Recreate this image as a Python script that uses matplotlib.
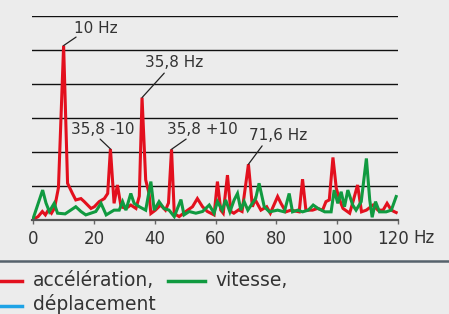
import matplotlib
matplotlib.use("Agg")
import matplotlib.pyplot as plt
from matplotlib.lines import Line2D
from matplotlib.transforms import ScaledTranslation

# acceleration spectrum (red)
acc_hz = [0, 1.6, 3, 4, 5, 6, 7, 8.3, 10, 11.3, 12.9, 14, 15.7, 16.8, 17.9, 19, 20.1, 21.7,
          23.4, 24.5, 25.4, 26.6, 27.7, 28.9, 30.5, 32.1, 33.8, 34.9, 35.8, 37, 38.1, 38.7,
          40.2, 41.9, 43.5, 44.5, 45.5, 46.4, 48, 50.2, 52.4, 54, 55.7, 57.3, 59.5, 60.6,
          61.7, 62.5, 63.9, 65, 66, 67.6, 68.7, 70.8, 72.1, 73, 74.9, 76.8, 78, 80.4, 81.5,
          83.1, 84.8, 87.5, 88.6, 89.7, 91.9, 93.5, 95.2, 96.3, 97.4, 98.6, 99.7, 100.8,
          101.9, 104.1, 105.2, 106.7, 108, 109.6, 111.8, 113.4, 115.1, 116.4, 117.8, 118.9, 119.4]
acc = [0.02, 0.1, 0.25, 0.15, 0.3, 0.2, 0.35, 0.95, 5.13, 1.08, 0.78, 0.59, 0.63, 0.54, 0.44,
       0.34, 0.39, 0.54, 0.63, 0.78, 2.09, 0.49, 1.03, 0.39, 0.34, 0.44, 0.34, 0.7, 3.6, 1.18,
       0.78, 0.19, 0.29, 0.44, 0.29, 0.5, 2.08, 0.19, 0.1, 0.25, 0.39, 0.63, 0.39, 0.25, 0.15,
       1.13, 0.29, 0.2, 1.32, 0.25, 0.2, 0.3, 0.25, 1.64, 0.39, 0.6, 0.29, 0.39, 0.2, 0.69,
       0.49, 0.24, 0.29, 0.24, 1.2, 0.29, 0.29, 0.34, 0.29, 0.54, 0.59, 1.84, 0.93, 0.59,
       0.34, 0.2, 0.54, 1.03, 0.24, 0.29, 0.44, 0.29, 0.29, 0.49, 0.29, 0.24, 0.22]

# velocity spectrum (green)
vit_hz = [0, 3.1, 4.2, 5.3, 6.9, 8, 10.5, 14, 15.7, 17.3, 20.6, 22.3, 24, 26.6, 28.3, 29.4,
          30.5, 32.1, 33.2, 34.9, 37, 38.7, 39.8, 41.4, 43, 44.7, 46.4, 48.6, 49.6, 51.3,
          53.5, 55.7, 57.9, 59.5, 60.6, 62.2, 63.3, 64.7, 66.1, 67.2, 68.3, 69.4, 70.6, 71.7,
          73.2, 74.3, 76, 77.7, 80.4, 82.6, 84.2, 85.3, 87, 88.6, 90.5, 92.1, 93.7, 95.9, 98,
          99, 100.2, 101.3, 102.4, 103.5, 105.1, 106.2, 107.9, 109.6, 110.7, 111.5, 112.6,
          113.9, 116.1, 117.8, 119.4]
vit = [0.05, 0.88, 0.5, 0.25, 0.49, 0.2, 0.18, 0.39, 0.25, 0.15, 0.25, 0.49, 0.15, 0.29, 0.29,
       0.54, 0.29, 0.78, 0.49, 0.39, 0.29, 1.13, 0.29, 0.54, 0.34, 0.29, 0.1, 0.6, 0.15, 0.25,
       0.2, 0.25, 0.44, 0.2, 0.54, 0.29, 0.59, 0.24, 0.59, 0.78, 0.29, 0.54, 0.29, 0.44, 0.64,
       1.08, 0.39, 0.24, 0.29, 0.24, 0.78, 0.24, 0.29, 0.24, 0.29, 0.44, 0.34, 0.24, 0.24,
       0.88, 0.49, 0.83, 0.39, 0.88, 0.44, 0.29, 0.54, 1.81, 0.59, 0.08, 0.54, 0.24, 0.24,
       0.29, 0.69]

xticks = [0, 20, 40, 60, 80, 100, 120]

# (label, peak x, peak y, leader end x, leader end y, text x, text y)
notes = [("10 Hz", 10, 5.13, 14.1, 5.38, 13.3, 5.62),
         ("35,8 Hz", 35.8, 3.6, 43.1, 4.32, 36.9, 4.62),
         ("35,8 -10", 25.4, 2.09, 22.0, 2.38, 12.5, 2.65),
         ("35,8 +10", 45.5, 2.08, 50.3, 2.38, 44.1, 2.65),
         ("71,6 Hz", 70.8, 1.64, 75.3, 2.18, 71.0, 2.5)]

RED = "#e3101e"
GREEN = "#109a40"
BLUE = "#1ea3e6"
TXT = "#333333"
BG = "#ececec"

fig = plt.figure(figsize=(4.49, 3.14), dpi=100, facecolor=BG)
ax = fig.add_axes([32/449, 94/314, 366/449, 204/314], facecolor=BG)

for g in range(1, 7):
    ax.axhline(g, color="#111111", lw=1.0, zorder=1)

ax.plot(acc_hz, acc, color=RED, lw=2.2, zorder=3, solid_joinstyle="miter")
ax.plot(vit_hz, vit, color=GREEN, lw=2.2, zorder=4, solid_joinstyle="miter")

for lab, px, py, lx, ly, tx, ty in notes:
    ax.annotate("", xy=(px, py), xytext=(lx, ly),
                arrowprops=dict(arrowstyle="-", color="#222222", lw=0.9,
                                shrinkA=0, shrinkB=0))
    ax.text(tx, ty, lab, fontsize=11, color=TXT, ha="left", va="center")

ax.set_xlim(-0.4, 119.7)
ax.set_ylim(0, 6)
ax.set_yticks([])
ax.set_xticks(xticks)
ax.set_xticklabels([str(t) for t in xticks])
ax.tick_params(axis="x", length=3, width=1, color="#666666", labelsize=12,
               labelcolor=TXT, pad=4)
last = ax.get_xticklabels()[-1]
last.set_transform(last.get_transform() + ScaledTranslation(-5/100, 0, fig.dpi_scale_trans))
for s in ["top", "right", "left"]:
    ax.spines[s].set_visible(False)
ax.spines["bottom"].set_color("#555555")
ax.spines["bottom"].set_linewidth(1.6)
ax.spines["bottom"].set_zorder(5)

fig.text(413/449, 1 - 238/314, "Hz", fontsize=12, color=TXT, ha="left", va="center")

# separator and legend
fig.add_artist(Line2D([0, 1], [1 - 261/314] * 2, color="#56626c", lw=1.8))
fig.add_artist(Line2D([0, 22/449], [1 - 281/314] * 2, color=RED, lw=2.5))
fig.add_artist(Line2D([168/449, 205/449], [1 - 281/314] * 2, color=GREEN, lw=2.5))
fig.add_artist(Line2D([0, 22/449], [1 - 306/314] * 2, color=BLUE, lw=2.5))
fig.text(33/449, 1 - 280/314, "accélération,", fontsize=13.5, color=TXT, va="center")
fig.text(215/449, 1 - 280/314, "vitesse,", fontsize=13.5, color=TXT, va="center")
fig.text(33/449, 1 - 304/314, "déplacement", fontsize=13.5, color=TXT, va="center")

fig.savefig("out.png", dpi=100, facecolor=BG)
